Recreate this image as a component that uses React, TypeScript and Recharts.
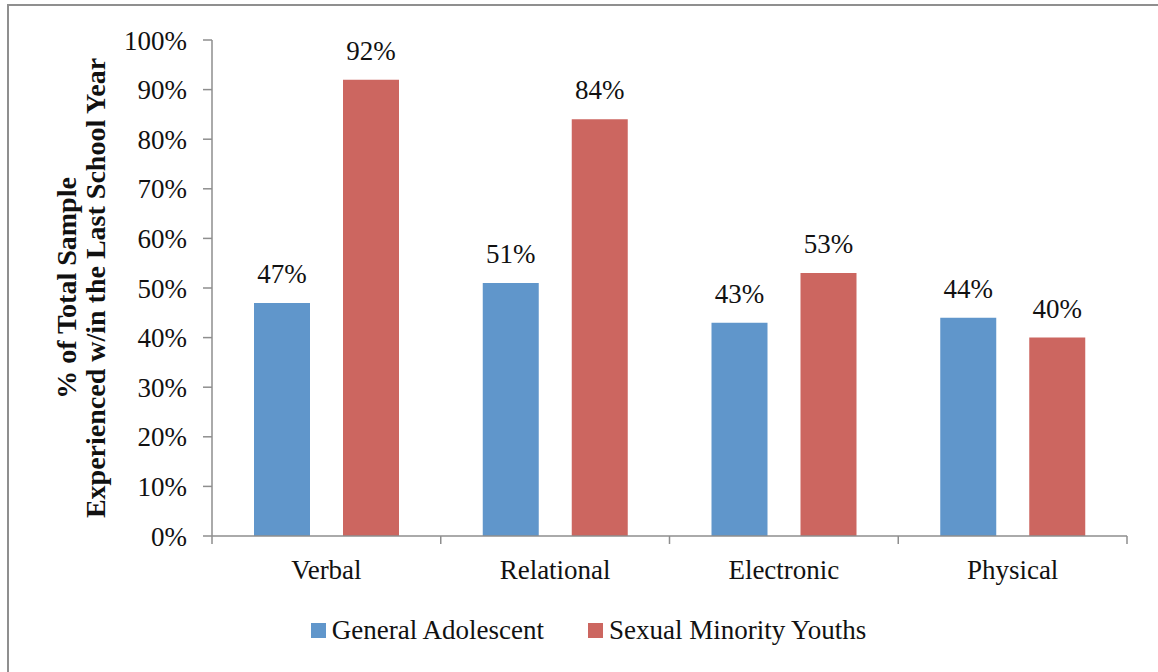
import { Bar, BarChart, LabelList, Legend, XAxis, YAxis } from 'recharts';

const categories = ['Verbal', 'Relational', 'Electronic', 'Physical'];
const generalAdolescent = [47, 51, 43, 44];
const sexualMinorityYouths = [92, 84, 53, 40];
const yTicks = [0, 10, 20, 30, 40, 50, 60, 70, 80, 90, 100];

const SERIES = [
  { key: 'general', name: 'General Adolescent', color: '#6096CB' },
  { key: 'minority', name: 'Sexual Minority Youths', color: '#CC6660' },
];

const CHART = {
  WIDTH: 1158,
  HEIGHT: 672,
  MARGIN: { top: 40, right: 31, bottom: 50, left: 0 },
  Y_AXIS_WIDTH: 212,
  X_AXIS_HEIGHT: 50,
  LEGEND_HEIGHT: 36,
  FONT: '"Liberation Serif", "Times New Roman", serif',
  FONT_SIZE: 27,
  TITLE_SIZE: 28,
  AXIS_COLOR: '#8e8e8e',
} as const;

const chartData = categories.map((name, i) => ({
  name,
  general: generalAdolescent[i],
  minority: sexualMinorityYouths[i],
}));

const bandWidth =
  (CHART.WIDTH - CHART.MARGIN.right - CHART.MARGIN.left - CHART.Y_AXIS_WIDTH) / categories.length;

// category label plus tick marks on the band edges (Excel style)
const CategoryTick = (props: any) => {
  const { x, y, payload, index } = props;
  const half = payload?.offset ? payload.offset : bandWidth / 2;
  const last = index === categories.length - 1;
  return (
    <g>
      <line x1={x - half} x2={x - half} y1={y - 8} y2={y} stroke={CHART.AXIS_COLOR} strokeWidth={1.5} />
      {last && (
        <line x1={x + half} x2={x + half} y1={y - 8} y2={y} stroke={CHART.AXIS_COLOR} strokeWidth={1.5} />
      )}
      <text
        x={x}
        y={y + 35}
        textAnchor="middle"
        fill="#111"
        fontFamily={CHART.FONT}
        fontSize={CHART.FONT_SIZE}
      >
        {payload.value}
      </text>
    </g>
  );
};

const AxisTitle = () => {
  const cy = CHART.MARGIN.top + 248;
  const lines = [
    { text: '% of Total Sample', x: 76 },
    { text: 'Experienced w/in the Last School Year', x: 105 },
  ];
  return (
    <g>
      {lines.map((l) => (
        <text
          key={l.text}
          x={l.x}
          y={cy}
          transform={`rotate(-90, ${l.x}, ${cy})`}
          textAnchor="middle"
          fontFamily={CHART.FONT}
          fontSize={CHART.TITLE_SIZE}
          fontWeight="bold"
          fill="#111"
        >
          {l.text}
        </text>
      ))}
    </g>
  );
};

const LegendContent = () => (
  <div
    style={{
      display: 'flex',
      justifyContent: 'center',
      alignItems: 'center',
      height: CHART.LEGEND_HEIGHT,
      paddingLeft: 19,
      fontFamily: CHART.FONT,
      fontSize: CHART.FONT_SIZE,
      color: '#111',
    }}
  >
    {SERIES.map((s, i) => (
      <div key={s.key} style={{ display: 'flex', alignItems: 'center', marginLeft: i ? 44 : 0 }}>
        <span style={{ width: 15, height: 15, background: s.color, marginRight: 6 }} />
        <span>{s.name}</span>
      </div>
    ))}
  </div>
);

export default function App() {
  return (
    <div
      style={{
        position: 'absolute',
        left: 0,
        top: 0,
        width: CHART.WIDTH,
        height: CHART.HEIGHT,
        background: '#fff',
        overflow: 'hidden',
      }}
    >
      <div
        style={{
          position: 'absolute',
          left: 7,
          top: 4,
          right: -4,
          bottom: -4,
          borderLeft: '2px solid #8f8f8f',
          borderTop: '2px solid #8f8f8f',
        }}
      />
      <BarChart
        width={CHART.WIDTH}
        height={CHART.HEIGHT}
        data={chartData}
        margin={CHART.MARGIN}
        barCategoryGap={42}
        barGap={33}
        style={{ position: 'absolute', left: 0, top: 0 }}
      >
        <XAxis
          dataKey="name"
          height={CHART.X_AXIS_HEIGHT}
          tickLine={false}
          tickSize={8}
          tickMargin={0}
          axisLine={{ stroke: CHART.AXIS_COLOR, strokeWidth: 1.5 }}
          tick={<CategoryTick />}
          interval={0}
        />
        <YAxis
          width={CHART.Y_AXIS_WIDTH}
          domain={[0, 100]}
          ticks={yTicks}
          interval={0}
          tickFormatter={(v: number) => `${v}%`}
          tickSize={9}
          tickMargin={16}
          axisLine={{ stroke: CHART.AXIS_COLOR, strokeWidth: 1.5 }}
          tickLine={{ stroke: CHART.AXIS_COLOR, strokeWidth: 1.5 }}
          tick={{ fill: '#111', fontFamily: CHART.FONT, fontSize: CHART.FONT_SIZE }}
        />
        <Legend
          verticalAlign="bottom"
          layout="horizontal"
          height={CHART.LEGEND_HEIGHT}
          wrapperStyle={{ top: 612, bottom: 'auto', left: 0, width: CHART.WIDTH }}
          content={<LegendContent />}
        />
        {SERIES.map((s) => (
          <Bar key={s.key} dataKey={s.key} name={s.name} fill={s.color} isAnimationActive={false}>
            <LabelList
              dataKey={s.key}
              position="top"
              offset={20}
              formatter={(v: any) => `${v}%`}
              fill="#111"
              fontFamily={CHART.FONT}
              fontSize={CHART.FONT_SIZE}
            />
          </Bar>
        ))}
        <AxisTitle />
      </BarChart>
    </div>
  );
}
